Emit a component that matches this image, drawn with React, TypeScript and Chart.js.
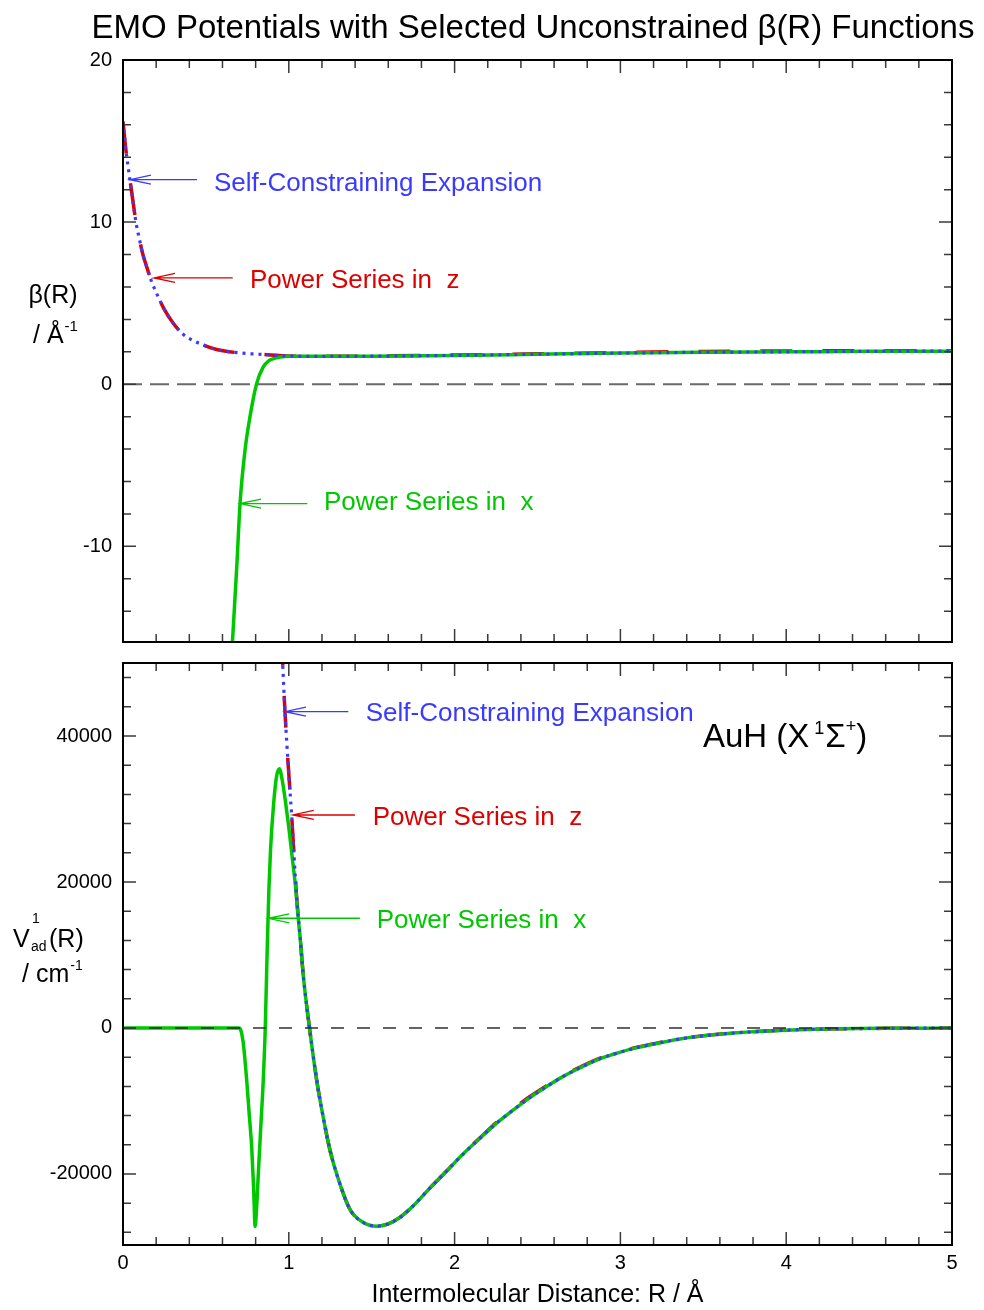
import React, { useEffect, useRef } from "react";
import { Chart, registerables } from "chart.js";

Chart.register(...registerables);

const FONT = "'Liberation Sans', Arial, Helvetica, sans-serif";
const BLUE = "#3a3aff";
const RED = "#dd0000";
const GREEN = "#00c800";

// ---------------- Top panel: beta(R) ----------------
const betaYTicks = [20, 10, 0, -10];
const xTicks = [0, 1, 2, 3, 4, 5];

const betaSelfR = [0, 0.018, 0.042, 0.06, 0.078, 0.1, 0.12, 0.143, 0.17, 0.203, 0.25, 0.303, 0.35, 0.384, 0.464, 0.565, 0.706, 0.85, 1.0, 1.25, 1.5, 2.0, 2.5, 3.0, 3.5, 4.0, 4.5, 5.0];
const betaSelf = [16.2, 14.4, 12.6, 11.3, 10.0, 8.9, 8.0, 7.24, 6.4, 5.6, 4.6, 3.76, 3.2, 2.92, 2.5, 2.14, 1.93, 1.83, 1.74, 1.72, 1.73, 1.78, 1.85, 1.92, 1.97, 2.0, 2.03, 2.04];

const betaZR = [0, 0.018, 0.042, 0.06, 0.078, 0.1, 0.12, 0.143, 0.17, 0.203, 0.25, 0.303, 0.35, 0.384, 0.464, 0.565, 0.706, 0.85, 1.0, 1.25, 1.5, 2.0, 2.5, 3.0, 3.5, 4.0, 4.5, 5.0];
const betaZ = [16.2, 14.4, 12.6, 11.3, 10.0, 8.9, 8.0, 7.24, 6.4, 5.6, 4.6, 3.76, 3.2, 2.92, 2.5, 2.14, 1.93, 1.83, 1.74, 1.72, 1.74, 1.8, 1.88, 1.96, 2.02, 2.05, 2.07, 2.06];

const betaXR = [0.64, 0.66, 0.686, 0.706, 0.736, 0.766, 0.806, 0.846, 0.88, 0.907, 0.95, 1.0, 1.25, 1.5, 2.0, 2.5, 3.0, 3.5, 4.0, 4.5, 5.0];
const betaX = [-19.5, -15.9, -11.3, -7.35, -4.07, -2.0, 0.04, 1.07, 1.45, 1.58, 1.68, 1.72, 1.72, 1.73, 1.78, 1.85, 1.92, 1.97, 2.0, 2.03, 2.04];

// ---------------- Bottom panel: V(R) ----------------
const vYTicks = [40000, 20000, 0, -20000];

const vSelfR = [0.955, 0.963, 0.977, 0.997, 1.017, 1.047, 1.068, 1.088, 1.124, 1.168, 1.2, 1.248, 1.3, 1.37, 1.45, 1.53, 1.6, 1.67, 1.751, 1.85, 1.952, 2.05, 2.153, 2.25, 2.354, 2.45, 2.555, 2.65, 2.757, 2.877, 2.958, 3.08, 3.2, 3.36, 3.5, 3.68, 3.85, 4.08, 4.3, 4.6, 5.0];
const vSelf = [54000, 49900, 43300, 35800, 29200, 18000, 12500, 7030, 180, -7120, -11300, -16700, -20800, -24900, -26650, -27150, -26850, -25950, -24350, -21950, -19600, -17300, -15110, -13100, -11230, -9600, -8030, -6700, -5450, -4200, -3600, -2800, -2200, -1500, -1080, -700, -450, -230, -120, -50, -10];

const vZR = [0.955, 0.963, 0.977, 0.997, 1.017, 1.047, 1.068, 1.088, 1.124, 1.168, 1.2, 1.248, 1.3, 1.37, 1.45, 1.53, 1.6, 1.67, 1.751, 1.85, 1.952, 2.05, 2.153, 2.25, 2.354, 2.45, 2.555, 2.65, 2.757, 2.877, 2.958, 3.08, 3.2, 3.36, 3.5, 3.68, 3.85, 4.08, 4.3, 4.6, 5.0];
const vZ = [54000, 49900, 43300, 35800, 29200, 18000, 12500, 7030, 180, -7120, -11300, -16700, -20800, -24900, -26650, -27150, -26850, -25950, -24350, -21950, -19600, -17250, -15050, -13000, -11100, -9450, -7900, -6600, -5350, -4130, -3540, -2750, -2160, -1470, -1060, -690, -440, -225, -115, -50, -10];

const vXR = [0, 0.5, 0.7, 0.712, 0.725, 0.735, 0.746, 0.762, 0.776, 0.788, 0.797, 0.805, 0.815, 0.83, 0.846, 0.858, 0.87, 0.88, 0.89, 0.907, 0.925, 0.943, 0.96, 0.98, 1.0, 1.02, 1.04, 1.06, 1.068, 1.088, 1.124, 1.168, 1.2, 1.248, 1.3, 1.37, 1.45, 1.53, 1.6, 1.67, 1.751, 1.85, 1.952, 2.05, 2.153, 2.25, 2.354, 2.45, 2.555, 2.65, 2.757, 2.877, 2.958, 3.08, 3.2, 3.36, 3.5, 3.68, 3.85, 4.08, 4.3, 4.6, 5.0];
const vX = [0, 0, 0, -400, -2000, -4200, -7120, -12000, -16260, -22000, -27200, -25000, -20500, -14000, -7120, 0, 11000, 19000, 24500, 30300, 34300, 35500, 34000, 31000, 27500, 23500, 19500, 14300, 12500, 7030, 180, -7120, -11300, -16700, -20800, -24900, -26650, -27150, -26850, -25950, -24350, -21950, -19600, -17300, -15110, -13100, -11230, -9600, -8030, -6700, -5450, -4200, -3600, -2800, -2200, -1500, -1080, -700, -450, -230, -120, -50, -10];

type Ann = { text: string; color: string; tipX: number; tipY: number; tailX: number; textX: number; textY: number };

const topAnnotations: Ann[] = [
  { text: "Self-Constraining Expansion", color: BLUE, tipX: 0.042, tipY: 12.62, tailX: 0.446, textX: 0.549, textY: 11.94 },
  { text: "Power Series in  z", color: RED, tipX: 0.187, tipY: 6.56, tailX: 0.662, textX: 0.766, textY: 5.93 },
  { text: "Power Series in  x", color: GREEN, tipX: 0.706, tipY: -7.36, tailX: 1.112, textX: 1.212, textY: -7.78 },
];

const bottomAnnotations: Ann[] = [
  { text: "Self-Constraining Expansion", color: BLUE, tipX: 0.977, tipY: 43330, tailX: 1.359, textX: 1.464, textY: 42050 },
  { text: "Power Series in  z", color: RED, tipX: 1.024, tipY: 29180, tailX: 1.399, textX: 1.506, textY: 27810 },
  { text: "Power Series in  x", color: GREEN, tipX: 0.876, tipY: 15030, tailX: 1.429, textX: 1.53, textY: 13700 },
];

const zip = (xs: number[], ys: number[]) => xs.map((x, i) => ({ x, y: ys[i] }));

function txt(ctx: CanvasRenderingContext2D, s: string, x: number, y: number, size: number, color = "#000", align: CanvasTextAlign = "left") {
  ctx.font = `${size}px ${FONT}`;
  ctx.fillStyle = color;
  ctx.textAlign = align;
  ctx.textBaseline = "alphabetic";
  ctx.fillText(s, x, y);
  return ctx.measureText(s).width;
}

type PanelCfg = {
  id: string;
  xMinor: number;
  xMajor: number;
  yMinor: number;
  yMajor: number;
  zeroDash: number[];
  zeroColor: string;
  zeroWidth: number;
  annotations: Ann[];
  extra: (ctx: CanvasRenderingContext2D) => void;
};

function makePlugin(cfg: PanelCfg) {
  return {
    id: cfg.id,
    afterDatasetsDraw(chart: any) {
      const { ctx, chartArea: a, scales } = chart;
      const xs = scales.x;
      const ys = scales.y;
      ctx.save();
      // zero line
      const y0 = ys.getPixelForValue(0);
      ctx.beginPath();
      ctx.setLineDash(cfg.zeroDash);
      ctx.strokeStyle = cfg.zeroColor;
      ctx.lineWidth = cfg.zeroWidth;
      ctx.moveTo(a.left, y0);
      ctx.lineTo(a.right, y0);
      ctx.stroke();
      ctx.setLineDash([]);

      // tick marks, inward on all sides
      ctx.strokeStyle = "#3a3a3a";
      ctx.lineWidth = 1.5;
      ctx.beginPath();
      const isMajor = (v: number, step: number) => Math.abs(v / step - Math.round(v / step)) < 1e-6;
      for (let i = Math.ceil(xs.min / cfg.xMinor - 1e-9); i * cfg.xMinor <= xs.max + 1e-9; i++) {
        const v = i * cfg.xMinor;
        const px = xs.getPixelForValue(v);
        const len = isMajor(v, cfg.xMajor) ? 13 : 8;
        ctx.moveTo(px, a.top);
        ctx.lineTo(px, a.top + len);
        ctx.moveTo(px, a.bottom);
        ctx.lineTo(px, a.bottom - len);
      }
      for (let i = Math.ceil(ys.min / cfg.yMinor - 1e-9); i * cfg.yMinor <= ys.max + 1e-9; i++) {
        const v = i * cfg.yMinor;
        const py = ys.getPixelForValue(v);
        const len = isMajor(v, cfg.yMajor) ? 13 : 8;
        ctx.moveTo(a.left, py);
        ctx.lineTo(a.left + len, py);
        ctx.moveTo(a.right, py);
        ctx.lineTo(a.right - len, py);
      }
      ctx.stroke();

      // frame
      ctx.strokeStyle = "#000";
      ctx.lineWidth = 2;
      ctx.strokeRect(a.left, a.top, a.right - a.left, a.bottom - a.top);

      // annotations with arrows
      for (const an of cfg.annotations) {
        const tx = xs.getPixelForValue(an.tipX);
        const ty = ys.getPixelForValue(an.tipY);
        const tl = xs.getPixelForValue(an.tailX);
        ctx.strokeStyle = an.color;
        ctx.lineWidth = 1.3;
        ctx.beginPath();
        ctx.moveTo(tl, ty);
        ctx.lineTo(tx, ty);
        ctx.moveTo(tx + 21, ty - 4.5);
        ctx.lineTo(tx, ty);
        ctx.lineTo(tx + 21, ty + 4.5);
        ctx.stroke();
        txt(ctx, an.text, xs.getPixelForValue(an.textX), ys.getPixelForValue(an.textY), 26, an.color);
      }

      cfg.extra(ctx);
      ctx.restore();
    },
  };
}

const lineStyle = {
  blue: { borderColor: BLUE, borderWidth: 3.2, borderDash: [3, 5], borderCapStyle: "butt" as const },
  red: { borderColor: RED, borderWidth: 3.5, borderDash: [32, 30], borderCapStyle: "butt" as const },
  green: { borderColor: GREEN, borderWidth: 3.5 },
};

function baseDataset(label: string, data: { x: number; y: number }[], style: any) {
  return {
    label,
    data,
    pointRadius: 0,
    fill: false,
    cubicInterpolationMode: "monotone" as const,
    ...style,
  };
}

const noPadY = (s: any) => {
  s.width = 123;
  s.paddingTop = 0;
  s.paddingBottom = 0;
};

export default function App() {
  const topRef = useRef<HTMLCanvasElement | null>(null);
  const botRef = useRef<HTMLCanvasElement | null>(null);

  useEffect(() => {
    Chart.defaults.font.family = FONT;
    Chart.defaults.color = "#000";

    const topPlugin = makePlugin({
      id: "topPanel",
      xMinor: 0.2,
      xMajor: 1,
      yMinor: 2,
      yMajor: 10,
      zeroDash: [19, 8],
      zeroColor: "#6a6a6a",
      zeroWidth: 1.8,
      annotations: topAnnotations,
      extra: (ctx) => {
        txt(ctx, "EMO Potentials with Selected Unconstrained β(R) Functions", 533, 38, 33, "#000", "center");
        txt(ctx, "β(R)", 53, 303, 25, "#000", "center");
        const w = txt(ctx, "/ Å", 33, 343, 25);
        txt(ctx, "-1", 33 + w + 1, 331, 15);
      },
    });

    const botPlugin = makePlugin({
      id: "botPanel",
      xMinor: 0.2,
      xMajor: 1,
      yMinor: 4000,
      yMajor: 20000,
      zeroDash: [13, 13],
      zeroColor: "#222",
      zeroWidth: 1.4,
      annotations: bottomAnnotations,
      extra: (ctx) => {
        // y title (canvas starts at page y = 652)
        const off = 652;
        txt(ctx, "V", 13, 947 - off, 25);
        txt(ctx, "1", 32, 923 - off, 14);
        txt(ctx, "ad", 31, 951 - off, 14);
        txt(ctx, "(R)", 49, 947 - off, 25);
        const w = txt(ctx, "/ cm", 22, 982 - off, 25);
        txt(ctx, "-1", 22 + w + 1, 970 - off, 14);
        // molecule label
        let x = 703;
        const by = 747 - off;
        x += txt(ctx, "AuH (X", x, by, 33) + 5;
        x += txt(ctx, "1", x, by - 13, 18) + 1;
        x += txt(ctx, "Σ", x, by, 33);
        x += txt(ctx, "+", x, by - 15, 18);
        txt(ctx, ")", x, by, 33);
      },
    });

    const tickFont = { size: 20, family: FONT };

    const top = new Chart(topRef.current!, {
      type: "line",
      data: {
        datasets: [
          baseDataset("Self-Constraining Expansion", zip(betaSelfR, betaSelf), lineStyle.blue),
          baseDataset("Power Series in x", zip(betaXR, betaX), lineStyle.green),
          baseDataset("Power Series in z", zip(betaZR, betaZ), lineStyle.red),
        ],
      },
      options: {
        responsive: false,
        animation: false,
        events: [],
        layout: { padding: { left: 0, right: 32, top: 60, bottom: 10 } },
        plugins: { legend: { display: false }, tooltip: { enabled: false }, title: { display: false } },
        scales: {
          x: { type: "linear", min: 0, max: 5, display: false },
          y: {
            type: "linear",
            min: -15.9,
            max: 20,
            grid: { display: false, drawTicks: false },
            border: { display: false },
            afterFit: noPadY,
            afterBuildTicks: (s: any) => { s.ticks = betaYTicks.map((v) => ({ value: v })); },
            ticks: { font: tickFont, color: "#000", padding: 11, autoSkip: false, callback: (v: any) => String(v) },
          },
        },
      },
      plugins: [topPlugin],
    });

    const bot = new Chart(botRef.current!, {
      type: "line",
      data: {
        datasets: [
          baseDataset("Self-Constraining Expansion", zip(vSelfR, vSelf), lineStyle.blue),
          baseDataset("Power Series in x", zip(vXR, vX), lineStyle.green),
          baseDataset("Power Series in z", zip(vZR, vZ), lineStyle.red),
        ],
      },
      options: {
        responsive: false,
        animation: false,
        events: [],
        layout: { padding: { left: 0, right: 32, top: 11, bottom: 0 } },
        plugins: { legend: { display: false }, tooltip: { enabled: false }, title: { display: false } },
        scales: {
          x: {
            type: "linear",
            min: 0,
            max: 5,
            grid: { display: false, drawTicks: false },
            border: { display: false },
            afterFit: (s: any) => {
              s.height = 65;
              s.paddingLeft = 0;
              s.paddingRight = 0;
            },
            afterBuildTicks: (s: any) => { s.ticks = xTicks.map((v) => ({ value: v })); },
            ticks: { font: tickFont, color: "#000", padding: 6, maxRotation: 0, autoSkip: false, callback: (v: any) => String(v) },
            title: {
              display: true,
              text: "Intermolecular Distance: R / Å",
              font: { size: 25, family: FONT },
              color: "#000",
              padding: { top: 0, bottom: 0 },
            },
          },
          y: {
            type: "linear",
            min: -29730,
            max: 50000,
            grid: { display: false, drawTicks: false },
            border: { display: false },
            afterFit: noPadY,
            afterBuildTicks: (s: any) => { s.ticks = vYTicks.map((v) => ({ value: v })); },
            ticks: { font: tickFont, color: "#000", padding: 11, autoSkip: false, callback: (v: any) => String(v) },
          },
        },
      },
      plugins: [botPlugin],
    });

    return () => {
      top.destroy();
      bot.destroy();
    };
  }, []);

  return (
    <div style={{ position: "absolute", left: 0, top: 0, width: 984, height: 1310, background: "#fff" }}>
      <canvas ref={topRef} width={984} height={652} style={{ position: "absolute", left: 0, top: 0, display: "block" }} />
      <canvas ref={botRef} width={984} height={658} style={{ position: "absolute", left: 0, top: 652, display: "block" }} />
    </div>
  );
}
